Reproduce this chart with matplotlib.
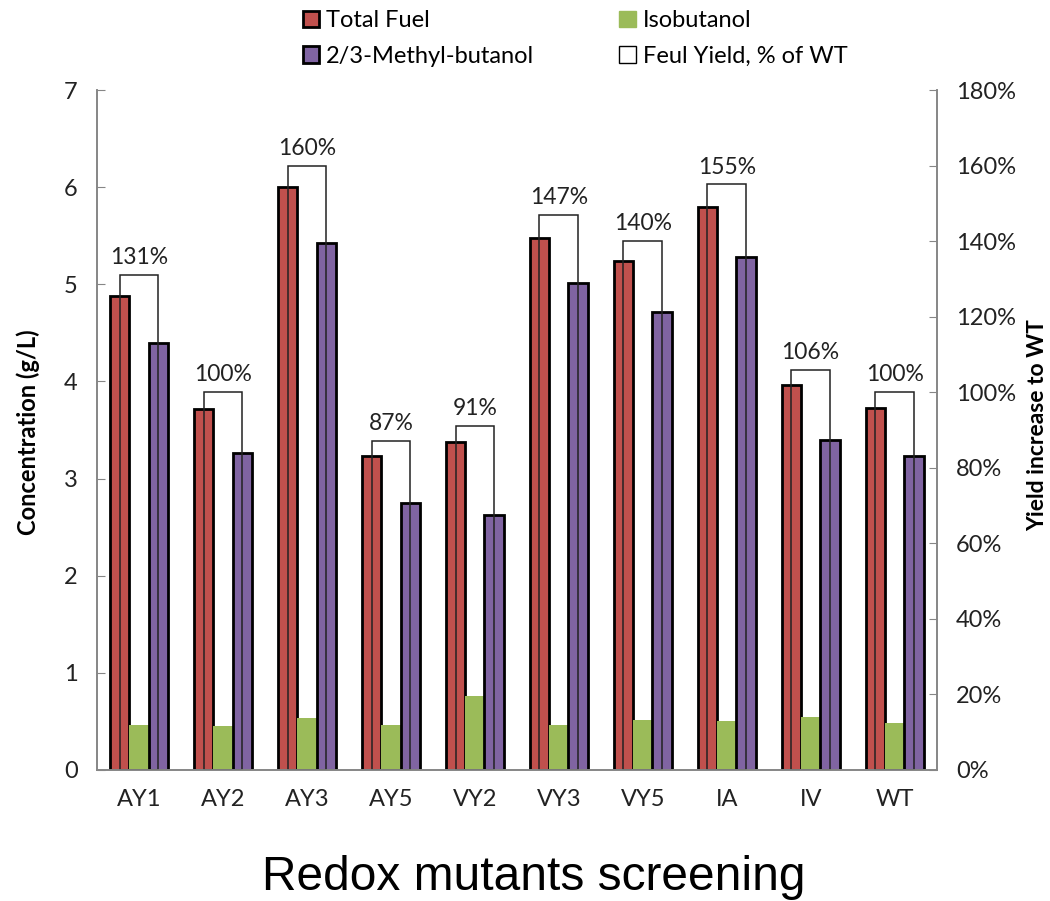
import matplotlib
matplotlib.use("Agg")
import matplotlib.pyplot as plt
import numpy as np
from matplotlib.patches import Patch
from matplotlib.ticker import FuncFormatter

# données
strains = ["AY1", "AY2", "AY3", "AY5", "VY2", "VY3", "VY5", "IA", "IV", "WT"]
total_fuel = [4.88, 3.72, 6.00, 3.23, 3.38, 5.48, 5.24, 5.80, 3.96, 3.73]
methyl_butanol = [4.40, 3.26, 5.43, 2.75, 2.62, 5.01, 4.71, 5.28, 3.40, 3.23]
isobutanol = [0.46, 0.45, 0.54, 0.46, 0.76, 0.46, 0.51, 0.50, 0.55, 0.48]
yield_pct = [131, 100, 160, 87, 91, 147, 140, 155, 106, 100]

red = "#C0504D"
green = "#9BBB59"
purple = "#8064A2"
grey = "#868686"

plt.rcParams['font.family'] = ['Lato', 'DejaVu Sans']

fig = plt.figure(figsize=(10.5, 9.01), dpi=100)
ax = fig.add_axes([0.0924, 0.1454, 0.7996, 0.7547])
ax2 = ax.twinx()

x = np.arange(len(strains))
w = 0.23

ax.bar(x - w, total_fuel, w, color=red, edgecolor="black", linewidth=2, zorder=2)
ax.bar(x, isobutanol, w, color=green, linewidth=0, zorder=2)
ax.bar(x + w, methyl_butanol, w, color=purple, edgecolor="black", linewidth=2, zorder=2)

# rendement : barre vide sur l'axe de droite
ax2.bar(x, yield_pct, 2 * w, facecolor="none", edgecolor="#222222", linewidth=1.1)
for xi, p in zip(x, yield_pct):
    ax2.annotate(f"{p}%", (xi, p), xytext=(0, 5), textcoords="offset points",
                 ha="center", va="bottom", fontsize=16.5, color="#222222")

ax.set_xlim(-0.5, len(strains) - 0.5)
ax.set_ylim(0, 7)
ax2.set_ylim(0, 180)
ax.set_yticks(range(0, 8))
ax2.set_yticks(range(0, 181, 20))
ax2.yaxis.set_major_formatter(FuncFormatter(lambda v, pos: f"{v:.0f}%"))

ax.set_xticks(x)
ax.set_xticklabels(strains)

for a in (ax, ax2):
    a.spines["top"].set_visible(False)
    for s in ("left", "right", "bottom"):
        a.spines[s].set_color(grey)
        a.spines[s].set_linewidth(1.2)
    a.tick_params(axis="y", direction="in", length=6, color=grey, labelsize=17,
                  labelcolor="#222222", pad=14)
ax.tick_params(axis="x", length=0, labelsize=17, labelcolor="#222222", pad=14)

# titres des axes placés à la main (celui de droite sortait du cadre)
fig.text(0.027, 0.52, "Concentration (g/L)", rotation=90, ha="center", va="center",
         fontsize=17, fontweight="bold")
fig.text(0.988, 0.528, "Yield increase to WT", rotation=90, ha="center", va="center",
         fontsize=16.5, fontweight="bold")

fig.text(0.508, 0.001, "Redox mutants screening", ha="center", va="bottom",
         fontsize=34.5, family="Liberation Sans")

handles = [
    Patch(facecolor=red, edgecolor="black", linewidth=2, label="Total Fuel"),
    Patch(facecolor=purple, edgecolor="black", linewidth=2, label="2/3-Methyl-butanol"),
    Patch(facecolor=green, edgecolor=green, label="Isobutanol"),
    Patch(facecolor="white", edgecolor="black", linewidth=1, label="Feul Yield, % of WT"),
]
fig.legend(handles=handles, ncol=2, loc="upper left", bbox_to_anchor=(0.268, 1.012),
           frameon=False, fontsize=17, handlelength=0.7, handleheight=0.7,
           handletextpad=0.3, columnspacing=3.6, labelspacing=0.6)

fig.savefig("out.png", dpi=100)
